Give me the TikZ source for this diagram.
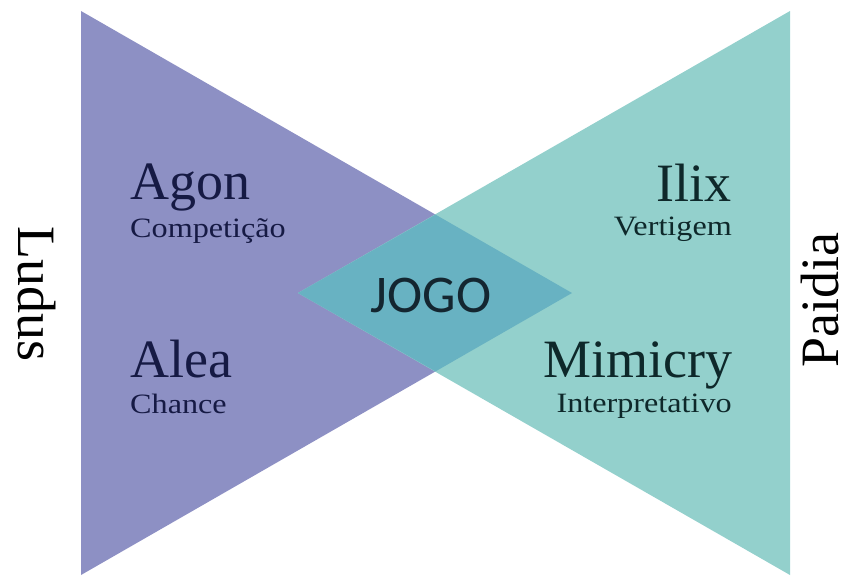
\documentclass[tikz,border=0pt]{standalone}
\usepackage{fontspec}
\setmainfont{Liberation Serif}
\newfontfamily\jogofont{Carlito}
\definecolor{ludusc}{RGB}{141,144,196}
\definecolor{paidiac}{RGB}{147,208,204}
\definecolor{jogoc}{RGB}{104,178,194}
\definecolor{navytext}{RGB}{22,26,68}
\definecolor{tealtext}{RGB}{14,40,42}
\definecolor{jogotext}{RGB}{20,38,48}
\tikzset{
  mainlabel/.style={inner sep=0pt, font=\fontsize{54}{60}\selectfont},
  sublabel/.style={inner sep=0pt, font=\fontsize{28}{32}\selectfont},
  sidelabel/.style={inner sep=0pt, font=\fontsize{54}{60}\selectfont, text=black},
}
\newcommand{\widen}[1]{\scalebox{1.15}[1]{#1}}
\begin{document}
\begin{tikzpicture}[x=1pt,y=-1pt]
\useasboundingbox (0,0) rectangle (851,576);
% triangle corners
\coordinate (lt) at (81,11);
\coordinate (lb) at (81,575);
\coordinate (ltip) at (572,293);
\coordinate (rt) at (790,11);
\coordinate (rb) at (790,575);
\coordinate (rtip) at (298,293);
\coordinate (dtop) at (435.5,214.6);
\coordinate (dbot) at (435.5,371.4);
% shapes
\fill[ludusc] (lt) -- (lb) -- (ltip) -- cycle;
\fill[paidiac] (rt) -- (rb) -- (rtip) -- cycle;
\fill[jogoc] (rtip) -- (dtop) -- (ltip) -- (dbot) -- cycle;
% center label
\node[inner sep=0pt, anchor=base, text=jogotext, font=\jogofont\fontsize{53}{60}\selectfont] (jogo) at (431,312) {JOGO};
% left labels
\node[mainlabel, anchor=base west, text=navytext] (agon) at (130,199) {Agon};
\node[sublabel, anchor=base west, text=navytext] (competicao) at (130,237) {\widen{Competição}};
\node[mainlabel, anchor=base west, text=navytext] (alea) at (130,377) {Alea};
\node[sublabel, anchor=base west, text=navytext] (chance) at (130,413) {\widen{Chance}};
% right labels
\node[mainlabel, anchor=base east, text=tealtext] (ilix) at (732,201) {Ilix};
\node[sublabel, anchor=base east, text=tealtext] (vertigem) at (732,235) {\widen{Vertigem}};
\node[mainlabel, anchor=base east, text=tealtext] (mimicry) at (733,377) {Mimicry};
\node[sublabel, anchor=base east, text=tealtext] (interpretativo) at (732,412) {\widen{Interpretativo}};
% side labels
\node[sidelabel, rotate=-90, anchor=base] (ludus) at (18,294) {Ludus};
\node[sidelabel, rotate=90, anchor=base] (paidia) at (838,300) {Paidia};
\end{tikzpicture}
\end{document}
